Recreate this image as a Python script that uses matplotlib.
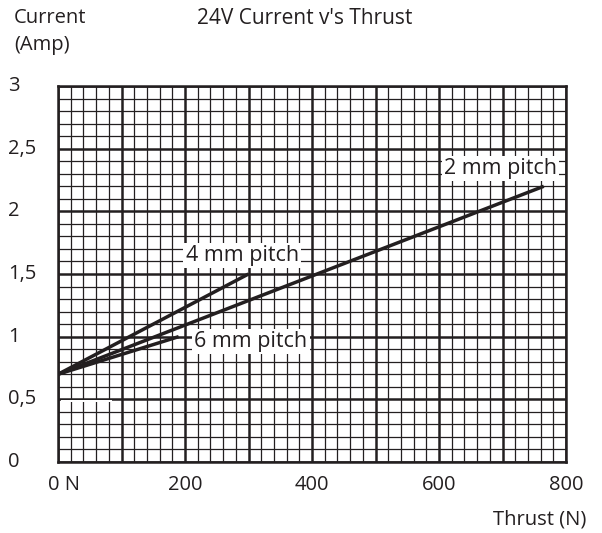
import matplotlib as mpl
import matplotlib.pyplot as plt
import matplotlib.patches as patches
import matplotlib.transforms as mtransforms
import numpy as np

mpl.rcParams.update(
    {
        "font.family": ["Open Sans", "DejaVu Sans"],
        "font.size": 14.5,
        "text.color": "#231f20",
    }
)

INK = "#231f20"

# -----------------------------
# data: current vs thrust (24V)
# -----------------------------
thrust_2mm = [0, 765]
current_2mm = [0.7, 2.2]

thrust_4mm = [0, 300]
current_4mm = [0.7, 1.5]

thrust_6mm = [0, 190]
current_6mm = [0.7, 1.0]

x_ticks = [200, 400, 600, 800]
x_labels = ["200", "400", "600", "800"]
y_ticks = [0, 0.5, 1, 1.5, 2, 2.5, 3]
y_labels = ["0", "0,5", "1", "1,5", "2", "2,5", "3"]

# -----------------------------
# figure
# -----------------------------
fig = plt.figure(figsize=(6.02, 5.33), dpi=100)
ax = fig.add_axes([58 / 602, (533 - 462) / 533, (566 - 58) / 602, (462 - 86) / 533])

ax.set_xlim(0, 800)
ax.set_ylim(0, 3)

# graph-paper grid
ax.set_xticks(np.arange(0, 801, 20), minor=True)
ax.set_yticks(np.arange(0, 3.01, 0.1), minor=True)
ax.set_xticks(np.arange(0, 801, 100))
ax.set_yticks(np.arange(0, 3.01, 0.5))
ax.grid(which="minor", color=INK, linewidth=0.9)
ax.grid(which="major", color=INK, linewidth=1.8)
ax.set_axisbelow(True)
ax.tick_params(which="both", length=0, labelbottom=False, labelleft=False)

for s in ax.spines.values():
    s.set_color(INK)
    s.set_linewidth(1.8)

# tick labels drawn as text so the layout follows the reference
tx = mtransforms.blended_transform_factory(ax.transData, fig.transFigure)
for t, l in zip(x_ticks, x_labels):
    ax.text(t, 1 - 485 / 533, l, transform=tx, ha="center", va="center")
fig.text(48 / 602, 1 - 485 / 533, "0 N", ha="left", va="center")

ty = mtransforms.blended_transform_factory(fig.transFigure, ax.transData)
for t, l in zip(y_ticks, y_labels):
    ax.text(8 / 602, t, l, transform=ty, ha="left", va="center")

# small white gap in the paper near bottom-left
ax.add_patch(patches.Rectangle((5, 0.475), 80, 0.02, facecolor="white", edgecolor="none", zorder=1.5))

# -------- curves ----------
ax.plot(thrust_2mm, current_2mm, color=INK, linewidth=2.5, solid_capstyle="butt", zorder=3)
ax.plot(thrust_4mm, current_4mm, color=INK, linewidth=2.5, solid_capstyle="butt", zorder=3)
ax.plot(thrust_6mm, current_6mm, color=INK, linewidth=2.5, solid_capstyle="butt", zorder=3)

box = dict(facecolor="white", edgecolor="none", pad=1.5)
ax.text(697, 2.34, "2 mm pitch", fontsize=15.5, ha="center", va="center", bbox=box, zorder=4)
ax.text(290, 1.65, "4 mm pitch", fontsize=15.5, ha="center", va="center", bbox=box, zorder=4)
ax.text(304, 0.96, "6 mm pitch", fontsize=15.5, ha="center", va="center", bbox=box, zorder=4)

# -------- titles ----------
fig.text(14 / 602, 1 - 18 / 533, "Current", va="center")
fig.text(14 / 602, 1 - 45 / 533, "(Amp)", va="center")
fig.text(197 / 602, 1 - 18 / 533, "24V Current v's Thrust", va="center", fontsize=15)
fig.text(586 / 602, 1 - 520 / 533, "Thrust (N)", ha="right", va="center")

plt.savefig("out.png", dpi=100)
